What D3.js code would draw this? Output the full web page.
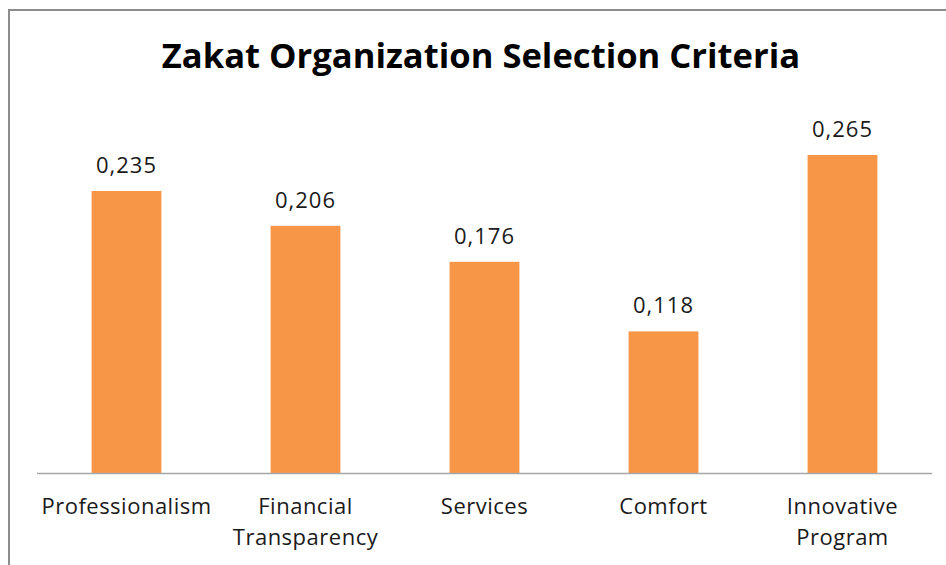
<!DOCTYPE html>
<html>
<head>
<meta charset="utf-8">
<script src="https://cdn.jsdelivr.net/npm/d3@7"></script>
<style>
  body { margin: 0; background: #fff; }
  text { font-family: "Open Sans", sans-serif; }
</style>
</head>
<body>
<svg id="chart"></svg>
<script>
const width = 946;
const height = 565;

const categories = [['Professionalism'], ['Financial', 'Transparency'], ['Services'], ['Comfort'], ['Innovative', 'Program']];
const values = [0.235, 0.206, 0.176, 0.118, 0.265];
const title = 'Zakat Organization Selection Criteria';

const svg = d3.select('#chart')
    .attr('width', width)
    .attr('height', height);

// chart frame (right and bottom edges fall outside the picture)
svg.append('rect')
    .attr('x', 9)
    .attr('y', 10)
    .attr('width', 960)
    .attr('height', 600)
    .attr('fill', '#fff')
    .attr('stroke', '#8c8c8c')
    .attr('stroke-width', 2);

const xScale = d3.scaleBand()
    .domain(d3.range(values.length))
    .range([37, 932])
    .paddingInner(0.61)
    .paddingOuter(0.305);

const yScale = d3.scaleLinear()
    .domain([0, 0.3])
    .range([473, 113]);

svg.append('text')
    .attr('x', 481)
    .attr('y', 68)
    .attr('text-anchor', 'middle')
    .attr('font-size', 34.6)
    .attr('font-weight', 'bold')
    .attr('fill', '#000')
    .text(title);

svg.selectAll('rect.bar')
    .data(values)
    .enter()
    .append('rect')
    .attr('class', 'bar')
    .attr('x', (d, i) => xScale(i))
    .attr('y', d => yScale(d))
    .attr('width', xScale.bandwidth())
    .attr('height', d => yScale(0) - yScale(d))
    .attr('fill', '#f79646');

svg.selectAll('text.value')
    .data(values)
    .enter()
    .append('text')
    .attr('class', 'value')
    .attr('x', (d, i) => xScale(i) + xScale.bandwidth() / 2)
    .attr('y', d => yScale(d) - 18)
    .attr('text-anchor', 'middle')
    .attr('font-size', 22)
    .attr('letter-spacing', 1)
    .attr('fill', '#1a1a1a')
    .text(d => d3.format('.3f')(d).replace('.', ','));

// baseline
svg.append('line')
    .attr('x1', 37)
    .attr('x2', 932)
    .attr('y1', yScale(0) + 0.5)
    .attr('y2', yScale(0) + 0.5)
    .attr('stroke', '#a6a6a6')
    .attr('stroke-width', 1.5);

const labels = svg.selectAll('text.cat')
    .data(categories)
    .enter()
    .append('text')
    .attr('class', 'cat')
    .attr('text-anchor', 'middle')
    .attr('font-size', 22)
    .attr('letter-spacing', 0.5)
    .attr('fill', '#1a1a1a');

labels.selectAll('tspan')
    .data((d, i) => d.map(t => ({ t, i })))
    .enter()
    .append('tspan')
    .attr('x', d => xScale(d.i) + xScale.bandwidth() / 2)
    .attr('y', (d, j) => 514 + j * 31)
    .text(d => d.t);
</script>
</body>
</html>
